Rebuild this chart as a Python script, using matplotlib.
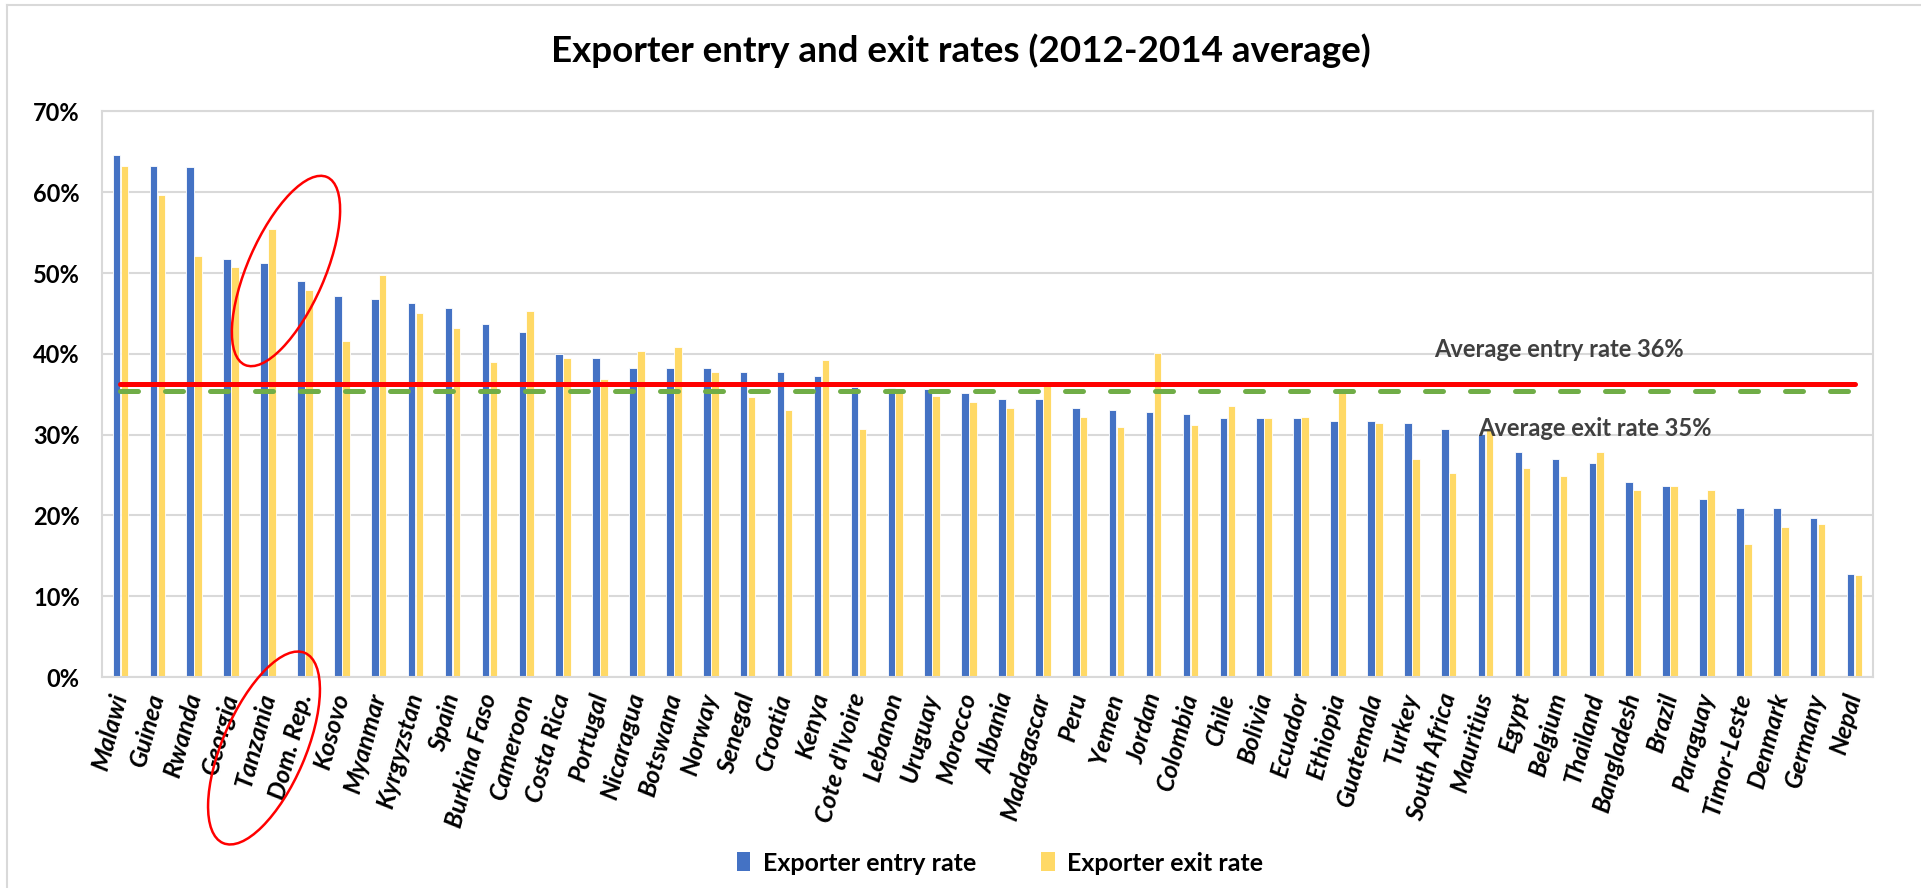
import matplotlib
matplotlib.use("Agg")
import matplotlib.pyplot as plt
import numpy as np
from matplotlib.patches import Ellipse, Patch
from matplotlib.lines import Line2D
from matplotlib.transforms import IdentityTransform
from matplotlib.ticker import FuncFormatter, MultipleLocator

plt.rcParams['font.family'] = ['Lato', 'DejaVu Sans']

countries = ["Malawi", "Guinea", "Rwanda", "Georgia", "Tanzania", "Dom. Rep.", "Kosovo",
             "Myanmar", "Kyrgyzstan", "Spain", "Burkina Faso", "Cameroon", "Costa Rica",
             "Portugal", "Nicaragua", "Botswana", "Norway", "Senegal", "Croatia", "Kenya",
             "Cote d'Ivoire", "Lebanon", "Uruguay", "Morocco", "Albania", "Madagascar",
             "Peru", "Yemen", "Jordan", "Colombia", "Chile", "Bolivia", "Ecuador",
             "Ethiopia", "Guatemala", "Turkey", "South Africa", "Mauritius", "Egypt",
             "Belgium", "Thailand", "Bangladesh", "Brazil", "Paraguay", "Timor-Leste",
             "Denmark", "Germany", "Nepal"]

entry_rate = [64.6, 63.3, 63.1, 51.8, 51.3, 49.0, 47.1, 46.8, 46.3, 45.7, 43.7, 42.7,
              40.0, 39.5, 38.3, 38.2, 38.2, 37.8, 37.8, 37.3, 35.9, 35.8, 35.7, 35.2,
              34.4, 34.4, 33.3, 33.0, 32.8, 32.5, 32.0, 32.0, 32.0, 31.7, 31.7, 31.5,
              30.7, 30.1, 27.8, 27.0, 26.5, 24.1, 23.6, 22.0, 20.9, 20.9, 19.7, 12.8]

exit_rate = [63.3, 59.7, 52.1, 50.8, 55.4, 47.9, 41.6, 49.7, 45.0, 43.2, 39.0, 45.3,
             39.5, 36.9, 40.3, 40.8, 37.8, 34.6, 33.0, 39.3, 30.7, 35.6, 34.8, 34.1,
             33.3, 36.0, 32.2, 30.9, 40.1, 31.2, 33.6, 32.0, 32.2, 35.3, 31.5, 27.0,
             25.2, 30.6, 25.9, 24.9, 27.8, 23.1, 23.6, 23.1, 16.5, 18.6, 18.9, 12.6]

avg_entry = 36.3
avg_exit = 35.4

BLUE = "#4472C4"
GOLD = "#FFD966"
GRID = "#D9D9D9"

W, H = 1921, 888
fig = plt.figure(figsize=(W / 100, H / 100), dpi=100)
fig.patch.set_facecolor("white")

# plot area in pixel terms
left, right, top, bottom = 102, 1873, 111.5, 677
ax = fig.add_axes([left / W, 1 - bottom / H, (right - left) / W, (bottom - top) / H])

x = np.arange(len(countries))
bw = 0.205
e = np.array(entry_rate) / 100
xr = np.array(exit_rate) / 100
ax.bar(x - bw / 2 - 0.005, e, width=bw, color=BLUE, edgecolor="white", linewidth=0.6,
       label="Exporter entry rate", zorder=2)
ax.bar(x + bw / 2 + 0.005, xr, width=bw, color=GOLD, edgecolor="white", linewidth=0.6,
       label="Exporter exit rate", zorder=2)

# average lines
ax.plot([x[0], x[-1]], [avg_entry / 100] * 2, color="#FF0000", lw=3.6,
        solid_capstyle="round", zorder=4)
ax.plot([x[0], x[-1]], [avg_exit / 100] * 2, color="#70AD47", lw=3.6,
        dashes=(3.6, 5.4), dash_capstyle="round", zorder=3)

ax.text(39.0, 0.405, f"Average entry rate {avg_entry:.0f}%", fontsize=17,
        fontweight="bold", color="#404040", ha="center", va="center", zorder=5)
ax.text(39.95, 0.307, f"Average exit rate {avg_exit:.0f}%", fontsize=17,
        fontweight="bold", color="#404040", ha="center", va="center", zorder=5)

ax.set_xlim(-0.5, len(countries) - 0.5)
ax.set_ylim(0, 0.70)
ax.yaxis.set_major_locator(MultipleLocator(0.10))
ax.yaxis.set_major_formatter(FuncFormatter(lambda v, p: f"{v * 100:.0f}%"))
ax.grid(axis="y", color=GRID, lw=1.5, zorder=0)
ax.set_axisbelow(True)
for s in ax.spines.values():
    s.set_color(GRID)
    s.set_linewidth(1.5)
ax.tick_params(axis="both", length=0)
ax.tick_params(axis="y", pad=16)
for lab in ax.get_yticklabels():
    lab.set_fontsize(17)
    lab.set_fontweight("bold")

ax.set_xticks(x)
ax.set_xticklabels(countries, rotation=75, rotation_mode="anchor", ha="right",
                   va="center", fontsize=18, fontweight="bold", fontstyle="italic")
ax.tick_params(axis="x", pad=12)

fig.text(0.5, 1 - 51 / H, "Exporter entry and exit rates (2012-2014 average)",
         ha="center", va="center", fontsize=26.5, fontweight="bold")

handles = [Patch(facecolor=BLUE, label="Exporter entry rate"),
           Patch(facecolor=GOLD, label="Exporter exit rate")]
fig.legend(handles=handles, loc="center", bbox_to_anchor=(1000 / W, 1 - 863 / H),
           ncol=2, frameon=False, prop={"weight": "bold", "size": 18},
           handlelength=0.55, handleheight=0.8, handletextpad=0.5, columnspacing=2.6)

# red ellipses around the highlighted bars and labels
idt = IdentityTransform()
fig.add_artist(Ellipse((286, H - 271), 205, 77, angle=66.4, fill=False,
                       edgecolor="#FF0000", lw=1.8, transform=idt))
fig.add_artist(Ellipse((264, H - 748), 207, 83, angle=66.7, fill=False,
                       edgecolor="#FF0000", lw=1.8, transform=idt))

# chart frame
fig.add_artist(Line2D([7, 7], [0, H - 5], color=GRID, lw=1.5, transform=idt))
fig.add_artist(Line2D([7, W], [H - 5, H - 5], color=GRID, lw=1.5, transform=idt))

fig.savefig("out.png", dpi=100)
